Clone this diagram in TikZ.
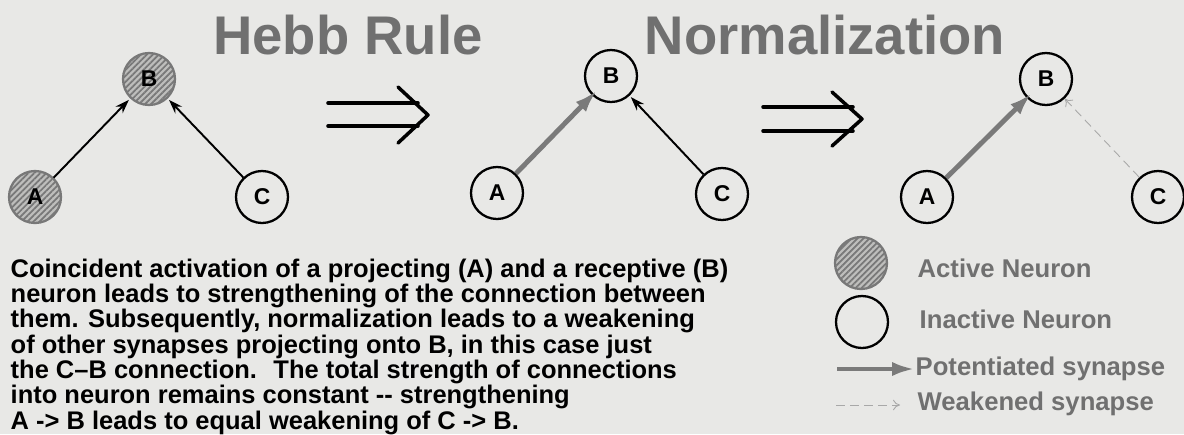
\documentclass[tikz,border=0pt]{standalone}
\usepackage{fontspec}
\setmainfont{Liberation Sans}
\usetikzlibrary{arrows.meta,patterns.meta}
\definecolor{paper}{RGB}{232,232,230}
\definecolor{inkgray}{RGB}{112,112,112}
\definecolor{hatchdark}{RGB}{120,120,120}
\definecolor{hatchlight}{RGB}{190,190,188}
\definecolor{strongsyn}{RGB}{122,122,122}
\definecolor{weaksyn}{RGB}{168,168,168}

\begin{document}
\begin{tikzpicture}[x=0.02cm,y=-0.02cm,thick,line join=round,>={Stealth[length=8pt,width=5.5pt]},
    neuron/.style={circle,draw,line width=1.3pt,minimum size=1.04cm,inner sep=0pt,
      font=\bfseries\fontsize{13}{13}\selectfont},
    activeneuron/.style={neuron,draw=hatchdark,preaction={fill=hatchlight},
      pattern={Lines[angle=45,distance=2.4pt,line width=1pt]},pattern color=hatchdark},
    synapse/.style={->,line width=1.1pt,shorten >=1pt},
    potentiated/.style={-{Latex[length=13pt,width=8pt]},line width=2.8pt,draw=strongsyn},
    weakened/.style={-{To[length=4pt,width=6pt]},line width=0.5pt,draw=weaksyn,dash pattern=on 5pt off 3pt},
    heading/.style={anchor=base,text=inkgray,font=\bfseries\fontsize{31}{31}\selectfont},
    legendtext/.style={anchor=base west,inner sep=0pt,text=inkgray,font=\bfseries\fontsize{14.6}{14.6}\selectfont},
    implies/.style={line width=2pt,line cap=round}]
                \fill[paper] (0,0) rectangle (1184,434);
                \useasboundingbox (0,0) rectangle (1184,434);
                \node[heading] (hebbtitle) at (348,54) {Hebb Rule};
                \node[heading] (normtitle) at (825,54) {Normalization};
                % before
                \node[activeneuron] (a1) at (35,197) {A};
                \node[activeneuron] (b1) at (149,79) {B};
                \node[neuron] (c1) at (262,197) {C};
                \draw[synapse] (a1) -- (b1);
                \draw[synapse] (c1) -- (b1);
                \draw[implies] (328,103) -- (418,103);
                \draw[implies] (328,126) -- (418,126);
                \draw[implies] (398,87) -- (428,115) -- (398,143);
                % after hebb
                \node[neuron] (a2) at (497,193) {A};
                \node[neuron] (b2) at (611,76) {B};
                \node[neuron] (c2) at (722,194) {C};
                \draw[potentiated,shorten >=-4pt] (a2) -- (b2);
                \draw[synapse] (c2) -- (b2);
                \draw[implies] (763,107) -- (853,107);
                \draw[implies] (763,131) -- (853,131);
                \draw[implies] (832,92) -- (862,119) -- (832,146);
                % after normalization
                \node[neuron] (a3) at (927,197) {A};
                \node[neuron] (b3) at (1046,79) {B};
                \node[neuron] (c3) at (1158,197) {C};
                \draw[potentiated,shorten >=-4pt] (a3) -- (b3);
                \draw[weakened] (c3) -- (b3);
                % caption
                \node[anchor=base west,align=left,inner sep=0pt,
                  font=\bfseries\fontsize{14.5}{14.4}\selectfont] (caption) at (10,429)
                  {Coincident activation of a projecting (A) and a receptive (B)\\
                   neuron leads to strengthening of the connection between\\
                   them. Subsequently, normalization leads to a weakening\\
                   of other synapses projecting onto B, in this case just\\
                   the C--B connection.~ The total strength of connections\\
                   into neuron remains constant -{}- strengthening\\
                   A -> B leads to equal weakening of C -> B.};
                % legend
                \node[activeneuron] (activekey) at (861,263) {};
                \node[neuron] (inactivekey) at (862,322) {};
                \node[legendtext] (activelabel) at (917,277) {Active Neuron};
                \node[legendtext] (inactivelabel) at (919,328) {Inactive Neuron};
                \node[legendtext] (potlabel) at (915,375) {Potentiated synapse};
                \node[legendtext] (weaklabel) at (917,410) {Weakened synapse};
                \coordinate (potstart) at (837,369);
                \coordinate (weakstart) at (836,405);
                \coordinate (weakend) at (900,405);
                \draw[potentiated] (potstart) -- (potstart -| potlabel.west);
                \draw[weakened] (weakstart) -- (weakend);
              \end{tikzpicture}
\end{document}
